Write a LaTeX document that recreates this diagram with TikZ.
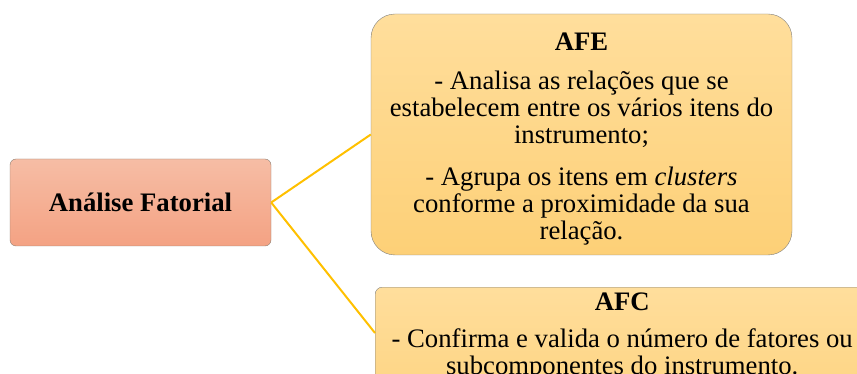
\documentclass[tikz,border=0pt]{standalone}
\usepackage{fontspec}
\setmainfont{Liberation Serif}
\usetikzlibrary{positioning}

\definecolor{linkgold}{HTML}{FFC000}
\definecolor{salmontop}{HTML}{F6BDA5}
\definecolor{salmonbot}{HTML}{F4A283}
\definecolor{sandtop}{HTML}{FFDE9C}
\definecolor{sandbot}{HTML}{FDD077}
\definecolor{edgegray}{HTML}{7F7F7F}

\begin{document}
\begin{tikzpicture}[x=1pt,y=-1pt]
      \tikzset{
        every node/.style={font=\fontsize{26.7}{27}\selectfont, align=center},
        mainbox/.style={draw=edgegray!80!brown, rounded corners=6pt,
          top color=salmontop, bottom color=salmonbot,
          minimum width=261pt, minimum height=87pt},
        infobox/.style={draw=edgegray, top color=sandtop, bottom color=sandbot},
        link/.style={draw=linkgold, line width=2pt},
      }
      \useasboundingbox (0,0) rectangle (857,374);

      \node[mainbox] (af) at (140.5,202.5) {\textbf{Análise Fatorial}};
      \node[infobox, rounded corners=24pt, minimum width=421pt, minimum height=241pt]
        (afe) at (581.5,134.5)
        {\rule{0pt}{26pt}\textbf{AFE}\\[12pt]
         - Analisa as relações que se\\
         estabelecem entre os vários itens do\\
         instrumento;\\[15pt]
         - Agrupa os itens em \textit{clusters}\\
         conforme a proximidade da sua\\
         relação.};
      \node[infobox, rounded corners=7pt, anchor=north west, minimum width=494pt,
        inner ysep=6pt] (afc) at (375,287)
        {\textbf{AFC}\\[10pt]
         - Confirma e valida o número de fatores ou\\
         subcomponentes do instrumento.\\[40pt]};
      \coordinate (afc-in) at ([yshift=-46pt]afc.north west);

      \draw[link] (af.east) -- (afe.west);
      \draw[link] (af.east) -- (afc-in);
\end{tikzpicture}
\end{document}
